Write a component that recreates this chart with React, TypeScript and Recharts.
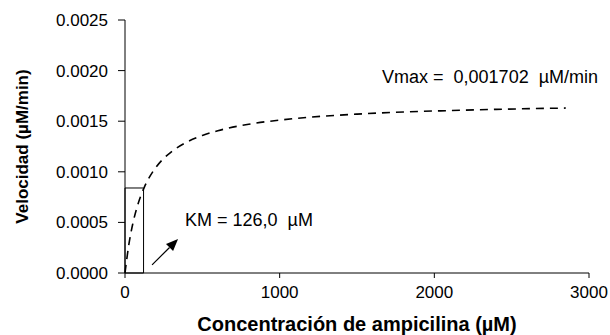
import React from 'react';
import {
  LineChart, Line, XAxis, YAxis, ReferenceArea, ReferenceLine, ReferenceDot, Label,
} from 'recharts';

// concentration (µM)
const conc = [0, 25, 50, 75, 100, 126, 150, 200, 250, 300, 400, 500, 600, 800, 1000, 1200, 1500, 1800, 2100, 2400, 2850];
// velocity (µM/min)
const velocity = [
  0, 0.000282, 0.000484, 0.000635, 0.000753, 0.000851, 0.000925, 0.001044, 0.001132, 0.001198,
  0.001294, 0.001359, 0.001406, 0.00147, 0.001511, 0.00154, 0.00157, 0.001591, 0.001605, 0.001617, 0.00163,
];
const xTicks = [0, 1000, 2000, 3000];
const yTicks = [0, 0.0005, 0.001, 0.0015, 0.002, 0.0025];

const KM_X = 120;
const HALF_V = 0.00084;
const arrowFrom = { x: 175, y: 0.00008 };
const arrowTo = { x: 343, y: 0.000336 };

const data = conc.map((c, i) => ({ c, v: velocity[i] }));

const FONT = 'Liberation Sans, Arial, sans-serif';
const NB = '\u00a0';

const Arrow = (props: any) => {
  const { x1, y1, x2, y2 } = props;
  const ang = Math.atan2(y2 - y1, x2 - x1);
  const len = 12;
  const w = 5;
  const bx = x2 - len * Math.cos(ang);
  const by = y2 - len * Math.sin(ang);
  const px = -Math.sin(ang) * w;
  const py = Math.cos(ang) * w;
  return (
    <g>
      <line x1={x1} y1={y1} x2={bx} y2={by} stroke="#000" strokeWidth={1.2} />
      <polygon points={`${x2},${y2} ${bx + px},${by + py} ${bx - px},${by - py}`} fill="#000" />
    </g>
  );
};

export default function App() {
  return (
    <div style={{ position: 'absolute', left: 0, top: 0, background: '#fff' }}>
      <LineChart width={610} height={335} data={data} margin={{ top: 20, right: 21, bottom: 0, left: 0 }}>
        <XAxis
          dataKey="c"
          type="number"
          domain={[0, 3000]}
          ticks={xTicks}
          height={62}
          stroke="#000"
          tickSize={5}
          tickMargin={8}
          tick={{ fill: '#000', fontSize: 17, fontFamily: FONT }}
        >
          <Label
            value="Concentración de ampicilina (µM)"
            position="insideBottom"
            offset={4}
            style={{ fill: '#000', fontSize: 20, fontWeight: 'bold', fontFamily: FONT }}
          />
        </XAxis>
        <YAxis
          type="number"
          domain={[0, 0.0025]}
          ticks={yTicks}
          width={125}
          stroke="#000"
          tickSize={7}
          tickMargin={10}
          tickFormatter={(v: number) => v.toFixed(4)}
          tick={{ fill: '#000', fontSize: 17, fontFamily: FONT }}
        >
          <Label
            value="Velocidad (µM/min)"
            angle={-90}
            position="insideLeft"
            offset={22}
            style={{ textAnchor: 'middle', fill: '#000', fontSize: 17, fontWeight: 'bold', fontFamily: FONT }}
          />
        </YAxis>
        <ReferenceArea x1={0} x2={KM_X} y1={0} y2={HALF_V} fill="none" stroke="#000" strokeWidth={1} ifOverflow="visible" />
        <Line
          dataKey="v"
          type="monotone"
          stroke="#000"
          strokeWidth={1.6}
          strokeDasharray="8 6"
          dot={false}
          isAnimationActive={false}
        />
        <ReferenceLine
          segment={[arrowFrom, arrowTo]}
          shape={(p: any) => <Arrow {...p} />}
          ifOverflow="visible"
        />
        <ReferenceDot x={1662} y={0.001937} r={0} fill="none" stroke="none">
          <Label value={`Vmax =${NB}${NB}0,001702${NB}${NB}µM/min`} position="right" offset={0} style={{ fill: '#000', fontSize: 18, fontFamily: FONT }} />
        </ReferenceDot>
        <ReferenceDot x={388} y={0.000524} r={0} fill="none" stroke="none">
          <Label value={`KM = 126,0${NB}${NB}µM`} position="right" offset={0} style={{ fill: '#000', fontSize: 18, fontFamily: FONT }} />
        </ReferenceDot>
      </LineChart>
    </div>
  );
}
